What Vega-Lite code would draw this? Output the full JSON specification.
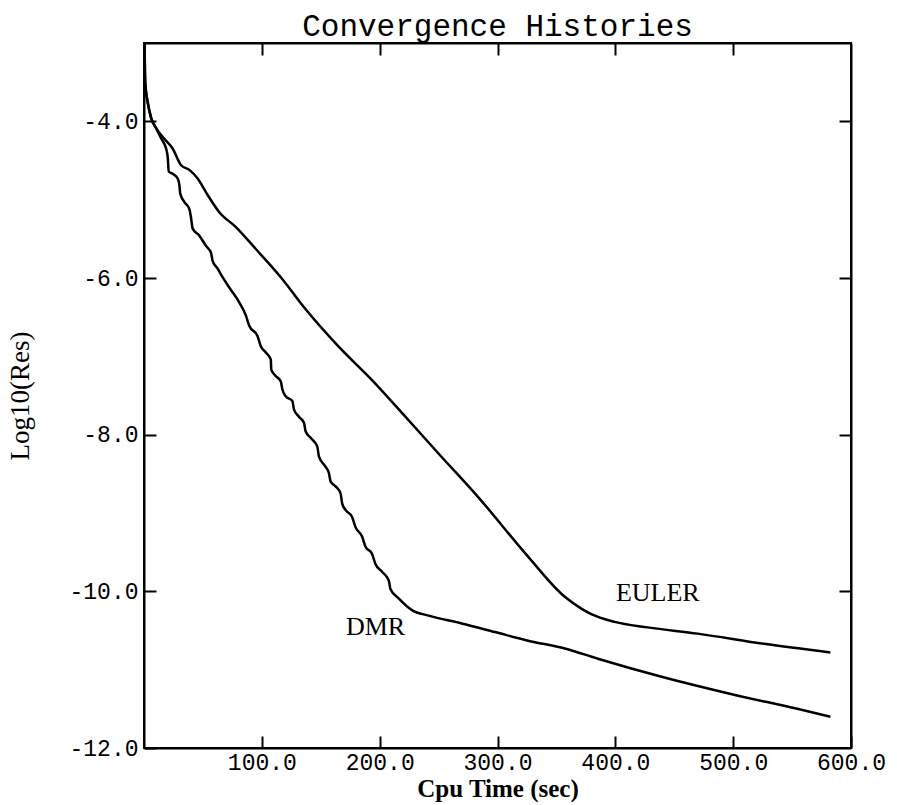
{
  "$schema": "https://vega.github.io/schema/vega-lite/v6.json",
  "width": 707,
  "height": 705,
  "autosize": "none",
  "padding": {"left": 144, "top": 43, "right": 46, "bottom": 57},
  "background": "white",
  "title": {"text": "Convergence Histories", "font": "Liberation Mono", "fontSize": 31, "fontWeight": "normal", "color": "black", "offset": -5},
  "datasets": {
    "curves": [
      {"s": "EULER", "x": 0.5, "y": -3.0}, {"s": "EULER", "x": 1, "y": -3.5}, {"s": "EULER", "x": 3.3, "y": -3.77}, {"s": "EULER", "x": 6.1, "y": -3.96}, {"s": "EULER", "x": 10.4, "y": -4.09},
      {"s": "EULER", "x": 15.9, "y": -4.2}, {"s": "EULER", "x": 24.4, "y": -4.35}, {"s": "EULER", "x": 31.5, "y": -4.56}, {"s": "EULER", "x": 38.5, "y": -4.62}, {"s": "EULER", "x": 45.5, "y": -4.73},
      {"s": "EULER", "x": 54.0, "y": -4.94}, {"s": "EULER", "x": 63.9, "y": -5.16}, {"s": "EULER", "x": 78.0, "y": -5.35}, {"s": "EULER", "x": 94.9, "y": -5.63}, {"s": "EULER", "x": 116.1, "y": -5.99},
      {"s": "EULER", "x": 137.2, "y": -6.4}, {"s": "EULER", "x": 165.4, "y": -6.88}, {"s": "EULER", "x": 193.3, "y": -7.3}, {"s": "EULER", "x": 221.8, "y": -7.77}, {"s": "EULER", "x": 249.9, "y": -8.24},
      {"s": "EULER", "x": 283.8, "y": -8.8}, {"s": "EULER", "x": 326.1, "y": -9.56}, {"s": "EULER", "x": 357.1, "y": -10.07}, {"s": "EULER", "x": 371.1, "y": -10.22}, {"s": "EULER", "x": 379.6, "y": -10.29},
      {"s": "EULER", "x": 399.4, "y": -10.39}, {"s": "EULER", "x": 427.5, "y": -10.46}, {"s": "EULER", "x": 469.8, "y": -10.54}, {"s": "EULER", "x": 526.2, "y": -10.67}, {"s": "EULER", "x": 582.5, "y": -10.78},
      {"s": "DMR", "x": 0.5, "y": -3.0}, {"s": "DMR", "x": 1, "y": -3.5}, {"s": "DMR", "x": 3.3, "y": -3.77}, {"s": "DMR", "x": 6.1, "y": -3.96}, {"s": "DMR", "x": 10.4, "y": -4.09},
      {"s": "DMR", "x": 14.6, "y": -4.22}, {"s": "DMR", "x": 18.8, "y": -4.35}, {"s": "DMR", "x": 20.2, "y": -4.47}, {"s": "DMR", "x": 21.0, "y": -4.64}, {"s": "DMR", "x": 24.4, "y": -4.67},
      {"s": "DMR", "x": 28.6, "y": -4.73}, {"s": "DMR", "x": 30.1, "y": -4.82}, {"s": "DMR", "x": 30.7, "y": -4.92}, {"s": "DMR", "x": 34.3, "y": -5.03}, {"s": "DMR", "x": 38.5, "y": -5.12},
      {"s": "DMR", "x": 40.0, "y": -5.24}, {"s": "DMR", "x": 41.3, "y": -5.37}, {"s": "DMR", "x": 47.0, "y": -5.46}, {"s": "DMR", "x": 52.6, "y": -5.59}, {"s": "DMR", "x": 56.9, "y": -5.68},
      {"s": "DMR", "x": 58.2, "y": -5.78}, {"s": "DMR", "x": 62.5, "y": -5.88}, {"s": "DMR", "x": 66.7, "y": -5.99}, {"s": "DMR", "x": 73.2, "y": -6.14}, {"s": "DMR", "x": 80.8, "y": -6.31},
      {"s": "DMR", "x": 86.5, "y": -6.48}, {"s": "DMR", "x": 89.3, "y": -6.61}, {"s": "DMR", "x": 96.3, "y": -6.74}, {"s": "DMR", "x": 99.1, "y": -6.87}, {"s": "DMR", "x": 103.4, "y": -6.95},
      {"s": "DMR", "x": 107.6, "y": -7.04}, {"s": "DMR", "x": 108.0, "y": -7.17}, {"s": "DMR", "x": 111.8, "y": -7.25}, {"s": "DMR", "x": 116.1, "y": -7.32}, {"s": "DMR", "x": 117.4, "y": -7.42},
      {"s": "DMR", "x": 120.3, "y": -7.51}, {"s": "DMR", "x": 125.9, "y": -7.57}, {"s": "DMR", "x": 127.3, "y": -7.68}, {"s": "DMR", "x": 131.5, "y": -7.77}, {"s": "DMR", "x": 135.8, "y": -7.85},
      {"s": "DMR", "x": 137.2, "y": -7.96}, {"s": "DMR", "x": 141.4, "y": -8.04}, {"s": "DMR", "x": 147.0, "y": -8.15}, {"s": "DMR", "x": 148.5, "y": -8.28}, {"s": "DMR", "x": 154.1, "y": -8.41},
      {"s": "DMR", "x": 156.9, "y": -8.49}, {"s": "DMR", "x": 158.4, "y": -8.6}, {"s": "DMR", "x": 162.6, "y": -8.66}, {"s": "DMR", "x": 166.8, "y": -8.75}, {"s": "DMR", "x": 168.2, "y": -8.88},
      {"s": "DMR", "x": 171.0, "y": -8.96}, {"s": "DMR", "x": 176.6, "y": -9.05}, {"s": "DMR", "x": 179.5, "y": -9.18}, {"s": "DMR", "x": 185.1, "y": -9.3}, {"s": "DMR", "x": 188.0, "y": -9.43},
      {"s": "DMR", "x": 193.5, "y": -9.52}, {"s": "DMR", "x": 196.4, "y": -9.65}, {"s": "DMR", "x": 202.0, "y": -9.75}, {"s": "DMR", "x": 207.7, "y": -9.86}, {"s": "DMR", "x": 209.1, "y": -9.97},
      {"s": "DMR", "x": 216.1, "y": -10.09}, {"s": "DMR", "x": 227.4, "y": -10.24}, {"s": "DMR", "x": 241.5, "y": -10.31}, {"s": "DMR", "x": 269.6, "y": -10.41}, {"s": "DMR", "x": 297.9, "y": -10.52},
      {"s": "DMR", "x": 326.0, "y": -10.63}, {"s": "DMR", "x": 357.1, "y": -10.73}, {"s": "DMR", "x": 385.2, "y": -10.86}, {"s": "DMR", "x": 441.6, "y": -11.1}, {"s": "DMR", "x": 498.0, "y": -11.31},
      {"s": "DMR", "x": 554.4, "y": -11.5}, {"s": "DMR", "x": 582.5, "y": -11.6}
    ],
    "labels": [
      {"x": 196.5, "y": -10.46, "label": "DMR"},
      {"x": 436, "y": -10.02, "label": "EULER"}
    ]
  },
  "layer": [
    {
      "data": {"name": "curves"},
      "mark": {"type": "line", "color": "black", "strokeWidth": 2.5, "interpolate": "monotone"},
      "encoding": {
        "x": {"field": "x", "type": "quantitative", "scale": {"domain": [0, 600], "nice": false, "zero": false},
              "axis": {"orient": "bottom", "values": [100, 200, 300, 400, 500, 600], "labelExpr": "format(datum.value, '.1f')", "labelPadding": 15, "title": "Cpu Time (sec)", "titleFont": "Liberation Serif", "titleFontWeight": "bold", "titleFontSize": 25, "titlePadding": 2}},
        "y": {"field": "y", "type": "quantitative", "scale": {"domain": [-12, -3], "nice": false, "zero": false},
              "axis": {"orient": "left", "values": [-4, -6, -8, -10, -12], "labelExpr": "replace(format(datum.value, '.1f'), '\u2212', '-')", "labelPadding": 18, "title": "Log10(Res)", "titleFont": "Liberation Serif", "titleFontWeight": "normal", "titleFontSize": 27, "titlePadding": 34}},
        "detail": {"field": "s"}
      }
    },
    {
      "data": {"name": "labels"},
      "mark": {"type": "text", "font": "Liberation Serif", "fontSize": 26, "color": "black", "align": "center", "baseline": "middle"},
      "encoding": {
        "x": {"field": "x", "type": "quantitative", "axis": {"orient": "top", "values": [100, 200, 300, 400, 500], "labels": false, "title": null}},
        "y": {"field": "y", "type": "quantitative", "axis": {"orient": "right", "values": [-4, -6, -8, -10], "labels": false, "title": null}},
        "text": {"field": "label"}
      }
    }
  ],
  "resolve": {"axis": {"x": "independent", "y": "independent"}},
  "config": {
    "view": {"stroke": "black", "strokeWidth": 2},
    "axis": {
      "grid": false, "domainColor": "black", "domainWidth": 2, "tickColor": "black", "tickWidth": 2, "tickSize": -12,
      "labelFont": "Liberation Mono", "labelFontSize": 23, "labelColor": "black", "titleColor": "black", "labelOverlap": false, "labelFlush": false
    }
  }
}
